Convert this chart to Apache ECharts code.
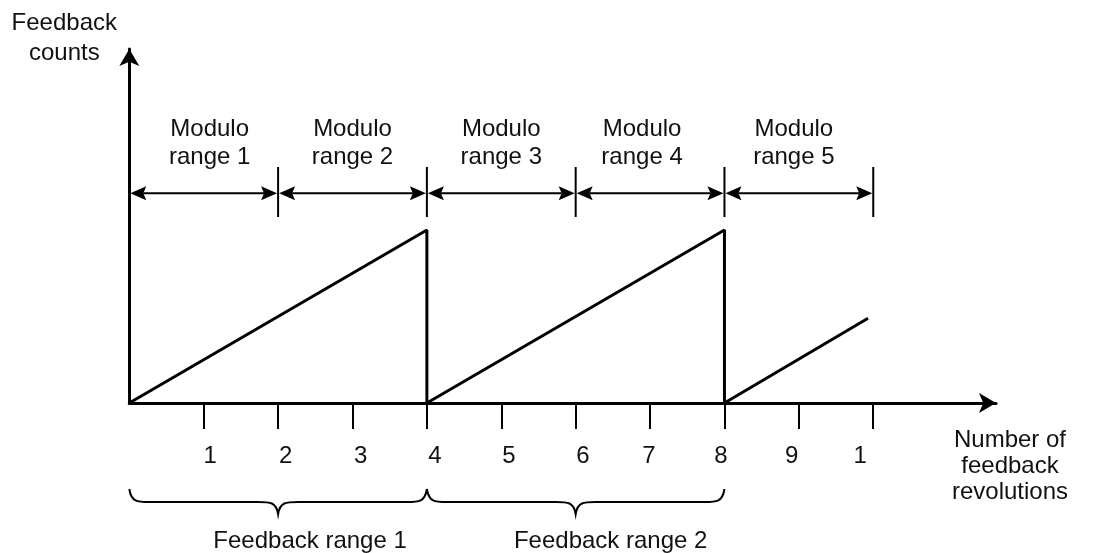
<!DOCTYPE html>
<html>
<head>
<meta charset="UTF-8">
<title>Modulo ranges</title>
<script src="https://cdn.jsdelivr.net/npm/echarts@6/dist/echarts.min.js"></script>
<style>
html, body { margin: 0; padding: 0; background: #fff; }
#main { width: 1108px; height: 553px; }
</style>
</head>
<body>
<div id="main"></div>
<script>
// --- data ---
var tickValues = [1, 2, 3, 4, 5, 6, 7, 8, 9, 10];
var tickLabels = ['1', '2', '3', '4', '5', '6', '7', '8', '9', '1'];
var sawX = [0, 4, 4, 8, 8, 9.93];
var sawY = [0, 1, 0, 1, 0, 0.49];
var moduloRanges = [[0, 2], [2, 4], [4, 6], [6, 8], [8, 10]];
var moduloNames = ['Modulo\nrange 1', 'Modulo\nrange 2', 'Modulo\nrange 3', 'Modulo\nrange 4', 'Modulo\nrange 5'];
var feedbackRanges = [[0, 4], [4, 8]];
var feedbackNames = ['Feedback range 1', 'Feedback range 2'];

// --- look ---
var FONT = '"Liberation Sans", Arial, sans-serif';
var INK = '#000';
var TEXT = '#111';
var FS = 24;
// small pixel nudges for text that is not centred on its tick in the drawing
var tickShift = [6.5, 7.6, 8.2, 8.1, 7.7, 7.3, -1.1, -3.5, -7.2, -13];
var moduloShift = [6, 0, 0, -8, -5];
var feedbackShift = [32, 35];

var sawData = sawX.map(function (x, i) { return [x, sawY[i]]; });

var tickRich = {};
tickShift.forEach(function (s, i) {
  tickRich['t' + i] = {
    fontFamily: FONT, fontSize: FS, color: TEXT, lineHeight: 24,
    padding: s > 0 ? [0, 0, 0, 2 * s] : [0, -2 * s, 0, 0]
  };
});

var myChart = echarts.init(document.getElementById('main'), null, { renderer: 'canvas' });

function renderModulo(params, api) {
  var i = params.dataIndex;
  var a = api.coord([api.value(0), 1.212]);
  var b = api.coord([api.value(1), 1.212]);
  var top = api.coord([0, 1.364])[1];
  var bot = api.coord([0, 1.075])[1];
  var ty = api.coord([0, 1.50])[1];
  var L = 16, H = 7, N = 3;
  var ax = a[0] + 1, bx = b[0] - 1, y = a[1];
  return {
    type: 'group',
    children: [
      { type: 'line', shape: { x1: ax + L - N, y1: y, x2: bx - L + N, y2: y }, style: { stroke: INK, lineWidth: 2 } },
      { type: 'polygon', shape: { points: [[ax, y], [ax + L, y - H], [ax + L - N, y], [ax + L, y + H]] }, style: { fill: INK } },
      { type: 'polygon', shape: { points: [[bx, y], [bx - L, y - H], [bx - L + N, y], [bx - L, y + H]] }, style: { fill: INK } },
      { type: 'line', shape: { x1: b[0], y1: top, x2: b[0], y2: bot }, style: { stroke: INK, lineWidth: 2 } },
      {
        type: 'text', x: (a[0] + b[0]) / 2 + moduloShift[i], y: ty,
        style: { text: moduloNames[i], fontFamily: FONT, fontSize: FS, fill: TEXT, align: 'center', verticalAlign: 'middle', lineHeight: 28.5 }
      }
    ]
  };
}

function renderBrace(params, api) {
  var i = params.dataIndex;
  var xa = api.coord([api.value(0), 0])[0];
  var xb = api.coord([api.value(1), 0])[0];
  var y0 = api.coord([0, 0])[1];
  var yTop = y0 + 86, yMid = y0 + 99, yTip = y0 + 111;
  var cx = (xa + xb) / 2, r = 20;
  var d = 'M' + xa + ',' + yTop +
    ' C' + (xa + 2) + ',' + yMid + ' ' + (xa + 8) + ',' + yMid + ' ' + (xa + r) + ',' + yMid +
    ' L' + (cx - r) + ',' + yMid +
    ' C' + (cx - 8) + ',' + yMid + ' ' + (cx - 2) + ',' + yMid + ' ' + cx + ',' + yTip +
    ' C' + (cx + 2) + ',' + yMid + ' ' + (cx + 8) + ',' + yMid + ' ' + (cx + r) + ',' + yMid +
    ' L' + (xb - r) + ',' + yMid +
    ' C' + (xb - 8) + ',' + yMid + ' ' + (xb - 2) + ',' + yMid + ' ' + xb + ',' + yTop;
  return {
    type: 'group',
    children: [
      { type: 'path', shape: { pathData: d }, style: { stroke: INK, fill: null, lineWidth: 2 } },
      {
        type: 'text', x: cx + feedbackShift[i], y: y0 + 138,
        style: { text: feedbackNames[i], fontFamily: FONT, fontSize: FS, fill: TEXT, align: 'center', verticalAlign: 'middle' }
      }
    ]
  };
}

var option = {
  backgroundColor: '#fff',
  animation: false,
  grid: { left: 129.3, top: 49, width: 866.7, height: 354, outerBoundsMode: 'none', containLabel: false },
  xAxis: {
    type: 'value', min: 0, max: 11.65,
    name: 'Number of\nfeedback\nrevolutions',
    nameLocation: 'end', nameGap: 14, nameMoveOverlap: false,
    nameTextStyle: { fontFamily: FONT, fontSize: FS, color: TEXT, lineHeight: 26, align: 'center', verticalAlign: 'top', padding: [24, 0, 0, 0] },
    axisLine: { show: true, lineStyle: { color: INK, width: 3 }, symbol: ['none', 'arrow'], symbolSize: [15, 17] },
    axisTick: { show: true, customValues: tickValues, length: 26, lineStyle: { color: INK, width: 2 } },
    axisLabel: {
      show: true, customValues: tickValues, margin: 41,
      formatter: function (v) {
        var i = Math.round(v) - 1;
        return '{t' + i + '|' + tickLabels[i] + '}';
      },
      rich: tickRich
    },
    splitLine: { show: false }
  },
  yAxis: {
    type: 'value', min: 0, max: 2.046,
    name: 'Feedback\ncounts',
    nameLocation: 'end', nameGap: -19, nameMoveOverlap: false,
    nameTextStyle: { fontFamily: FONT, fontSize: FS, color: TEXT, lineHeight: 29.5, align: 'center', verticalAlign: 'bottom', padding: [0, 130, 0, 0] },
    axisLine: { show: true, lineStyle: { color: INK, width: 3 }, symbol: ['none', 'arrow'], symbolSize: [15, 17] },
    axisTick: { show: false },
    axisLabel: { show: false },
    splitLine: { show: false }
  },
  series: [
    {
      name: 'Feedback counts',
      type: 'line',
      data: sawData,
      showSymbol: false,
      lineStyle: { color: INK, width: 3 },
      z: 5
    },
    {
      type: 'custom',
      coordinateSystem: 'cartesian2d',
      data: moduloRanges,
      encode: { x: [0, 1] },
      renderItem: renderModulo,
      silent: true
    },
    {
      type: 'custom',
      coordinateSystem: 'cartesian2d',
      data: feedbackRanges,
      encode: { x: [0, 1] },
      renderItem: renderBrace,
      silent: true
    }
  ]
};

myChart.setOption(option);
</script>
</body>
</html>
